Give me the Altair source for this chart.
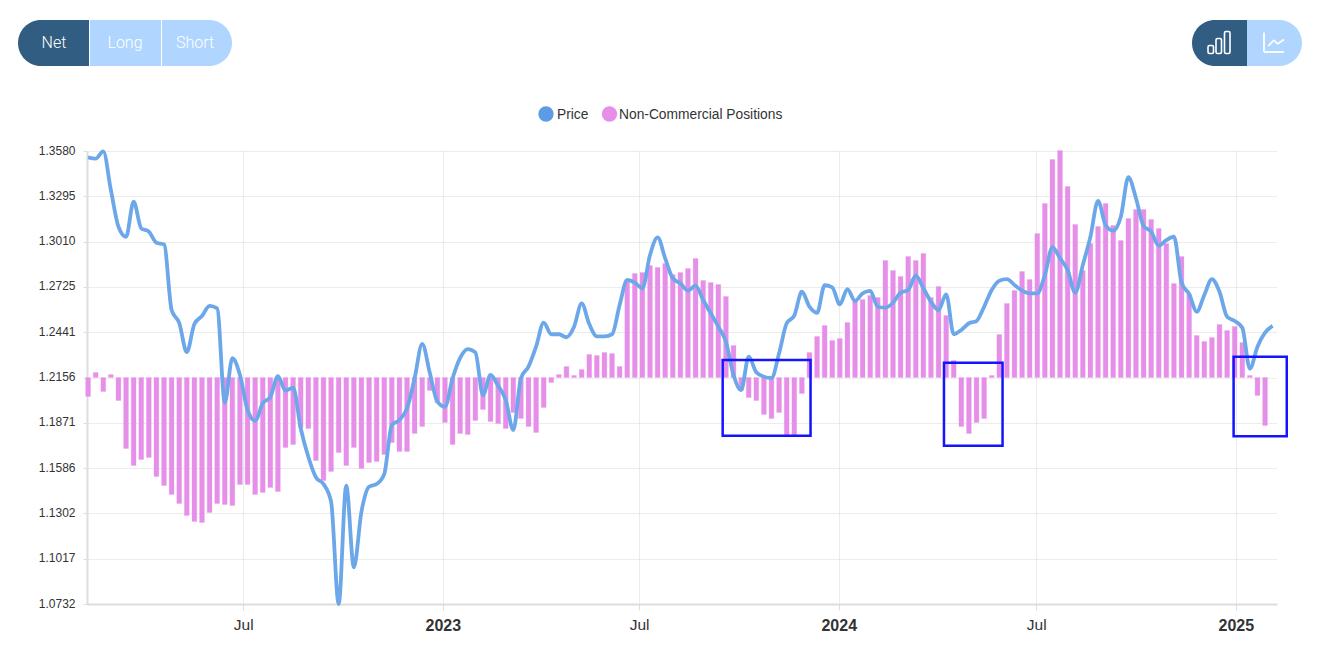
import altair as alt
import pandas as pd

# Weekly price (GBP/USD), first Tuesday 2022-02-08, one extra point past the last report
price = [1.3540,1.3532,1.3578,1.3335,1.3104,1.3041,1.3261,1.3094,1.3073,1.3003,1.2993,1.2580,1.2499,1.2316,1.2492,1.2543,1.2606,1.2591,1.1998,1.2277,
1.2172,1.1952,1.1884,1.1994,1.2032,1.2165,1.2073,1.2092,1.1837,1.1658,1.1529,1.1486,1.1375,1.0732,1.1476,1.0963,1.1312,1.1469,1.1486,1.1549,
1.1857,1.1889,1.1962,1.2151,1.2367,1.2186,1.2004,1.1972,1.2151,1.2280,1.2335,1.2314,1.2046,1.2172,1.2104,1.2015,1.1826,1.2151,1.2224,1.2350,
1.2501,1.2428,1.2428,1.2409,1.2475,1.2622,1.2492,1.2415,1.2415,1.2428,1.2612,1.2769,1.2752,1.2717,1.2926,1.3037,1.2905,1.2780,1.2748,1.2702,
1.2733,1.2643,1.2560,1.2475,1.2381,1.2172,1.2077,1.2287,1.2189,1.2161,1.2153,1.2308,1.2497,1.2545,1.2695,1.2601,1.2563,1.2736,1.2723,1.2616,
1.2712,1.2637,1.2685,1.2700,1.2601,1.2595,1.2626,1.2689,1.2706,1.2796,1.2717,1.2633,1.2580,1.2679,1.2428,1.2455,1.2497,1.2511,1.2601,1.2706,
1.2765,1.2775,1.2738,1.2702,1.2685,1.2685,1.2800,1.2975,1.2905,1.2832,1.2689,1.2863,1.3041,1.3266,1.3115,1.3079,1.3167,1.3415,1.3283,1.3108,
1.3073,1.2985,1.3020,1.3041,1.2752,1.2681,1.2570,1.2675,1.2775,1.2695,1.2538,1.2511,1.2469,1.2211,1.2350,1.2438,1.2480]

# Non-commercial net positions (relative units; axis hidden in the reference)
positions = [-19,5,-14,3,-23,-71,-88,-82,-80,-99,-108,-117,-126,-138,-144,-145,-135,-126,-127,-128,
-107,-107,-117,-115,-110,-114,-70,-67,-50,-51,-83,-103,-94,-75,-88,-70,-91,-85,-84,-77,
-65,-74,-74,-56,-49,-13,-25,-45,-67,-56,-57,-43,-32,-44,-46,-51,-35,-41,-49,-55,
-30,-5,3,11,2,8,23,22,25,24,11,97,104,105,112,110,114,103,105,109,
119,97,95,93,81,32,-13,-20,-23,-37,-41,-35,-58,-58,-16,25,41,52,37,39,
55,76,78,82,80,117,107,101,121,117,124,80,91,62,17,-49,-56,-45,-41,2,
43,74,87,106,98,144,174,218,227,191,153,107,134,151,174,152,137,159,168,168,
158,149,134,94,121,83,42,36,40,53,47,51,35,2,-18,-48]

y_ticks = [1.3580,1.3295,1.3010,1.2725,1.2441,1.2156,1.1871,1.1586,1.1302,1.1017,1.0732]
box_start = ["2023-09-16","2024-04-07","2024-12-30"]
box_end = ["2023-12-06","2024-05-31","2025-02-17"]
box_top = [1.2266,1.2249,1.2287]
box_bottom = [1.1790,1.1727,1.1786]

dates = pd.date_range("2022-02-08", periods=len(price), freq="7D")
price_df = pd.DataFrame({"date": dates, "price": price})
pos_df = pd.DataFrame({"date": dates[:len(positions)], "positions": positions})
box_df = pd.DataFrame({"start": pd.to_datetime(box_start), "end": pd.to_datetime(box_end), "top": box_top, "bottom": box_bottom})

FONT = "Liberation Sans"
BLUE, PINK, LINE = "#5c9ce6", "#e68fe9", "#6ca7e9"
DARK, LIGHT = "#325d82", "#b0d6ff"
GRID = "#d8d8d8"
L, T = 87, 151  # plot origin on the page

x_scale = alt.Scale(domain=["2022-02-07", "2025-02-08"], padding=0)
y_scale = alt.Scale(domain=[1.0732, 1.3580], nice=False, zero=False)
x_axis = alt.Axis(
    values=[alt.DateTime(year=2022, month=7, date=1), alt.DateTime(year=2023, month=1, date=1),
            alt.DateTime(year=2023, month=7, date=1), alt.DateTime(year=2024, month=1, date=1),
            alt.DateTime(year=2024, month=7, date=1), alt.DateTime(year=2025, month=1, date=1)],
    labelExpr="month(datum.value)==0 ? timeFormat(datum.value,'%Y') : 'Jul'",
    labelFontWeight={"condition": {"test": "month(datum.value)==0", "value": "bold"}, "value": "normal"},
    labelFontSize={"condition": {"test": "month(datum.value)==0", "value": 16}, "value": 15.5},
    labelColor="#333333", labelFont=FONT, labelPadding=7, labelFlush=False, title=None,
    grid=True, gridColor=GRID, gridDash=[1, 1], domainColor="#dddddd", domainWidth=2,
    tickColor="#dddddd", tickSize=6)

bars = alt.Chart(pos_df).mark_bar(size=4.8, color=PINK, stroke=PINK, strokeOpacity=0.25, strokeWidth=1).encode(
    x=alt.X("date:T", scale=x_scale, axis=x_axis),
    y=alt.Y("positions:Q", scale=alt.Scale(domain=[-226.5, 226.5], nice=False), axis=None))

line = alt.Chart(price_df).mark_line(color=LINE, strokeWidth=3.8, interpolate="monotone").encode(
    x=alt.X("date:T", scale=x_scale, axis=x_axis),
    y=alt.Y("price:Q", scale=y_scale,
            axis=alt.Axis(values=y_ticks, format=".4f", title=None, grid=True, gridColor=GRID, gridDash=[1, 1],
                          domainColor="#dddddd", domainWidth=2, tickColor="#dddddd", tickSize=4, labelOffset=-1,
                          labelFont=FONT, labelFontSize=12, labelColor="#333333", labelPadding=8)))

boxes = alt.Chart(box_df).mark_rect(fillOpacity=0, stroke="#1414ff", strokeWidth=2.5).encode(
    x=alt.X("start:T", scale=x_scale, axis=x_axis), x2="end:T",
    y=alt.Y("top:Q", scale=y_scale, axis=None), y2="bottom:Q")

one = pd.DataFrame({"i": [0]})

def rect(x0, x1, y0, y1, **kw):
    return alt.Chart(one).mark_rect(**kw).encode(
        x=alt.value(x0 - L), x2=alt.value(x1 - L), y=alt.value(y0 - T), y2=alt.value(y1 - T))

def seg(x0, y0, x1, y1, color="white", w=1.8):
    return alt.Chart(one).mark_rule(color=color, strokeWidth=w).encode(
        x=alt.value(x0 - L), x2=alt.value(x1 - L), y=alt.value(y0 - T), y2=alt.value(y1 - T))

def label(text, x, y, size, color, font="Roboto", weight=300, align="center"):
    return alt.Chart(one).mark_text(font=font, fontSize=size, fontWeight=weight, color=color, align=align, baseline="middle").encode(
        x=alt.value(x - L), y=alt.value(y - T), text=alt.value(text))

def dot(x, y, color):
    return alt.Chart(one).mark_point(filled=True, shape="circle", size=235, color=color, opacity=1).encode(
        x=alt.value(x - L), y=alt.value(y - T))

chrome = [
    rect(18, 89, 20, 66, fill=DARK, cornerRadiusTopLeft=23, cornerRadiusBottomLeft=23),
    rect(90, 161, 20, 66, fill=LIGHT),
    rect(162, 232, 20, 66, fill=LIGHT, cornerRadiusTopRight=23, cornerRadiusBottomRight=23),
    label("Net", 54, 43, 16, "#ffffff"),
    label("Long", 125, 43, 16, "#ffffff"),
    label("Short", 195, 43, 16, "#ffffff"),
    rect(1192, 1247, 20, 66, fill=DARK, cornerRadiusTopLeft=23, cornerRadiusBottomLeft=23),
    rect(1247, 1302, 20, 66, fill=LIGHT, cornerRadiusTopRight=23, cornerRadiusBottomRight=23),
    rect(1208, 1213.5, 45.5, 53.5, fillOpacity=0, stroke="white", strokeWidth=1.6, cornerRadius=1.5),
    rect(1216, 1221.5, 38.5, 53.5, fillOpacity=0, stroke="white", strokeWidth=1.6, cornerRadius=1.5),
    rect(1224.5, 1230, 31.5, 53.5, fillOpacity=0, stroke="white", strokeWidth=1.6, cornerRadius=1.5),
    seg(1264, 32.5, 1264, 52), seg(1264, 52, 1284, 52),
    seg(1268.3, 46, 1274, 40), seg(1274, 40, 1277.5, 44), seg(1277.5, 44, 1284, 39.5),
    dot(546, 114, BLUE), label("Price", 557, 115, 13.8, "#333333", FONT, 400, "left"),
    dot(609.5, 114, PINK), label("Non-Commercial Positions", 619, 115, 13.8, "#333333", FONT, 400, "left"),
]

chart = alt.layer(bars, line, boxes, *chrome).resolve_scale(y="independent").properties(
    width=1190, height=453,
    autosize=alt.AutoSizeParams(type="none"),
    padding={"left": 79, "top": 143, "right": 30, "bottom": 40},
    background="white",
).configure_view(stroke=None)

chart.save("out.html", embed_options={"renderer": "svg", "actions": False})
